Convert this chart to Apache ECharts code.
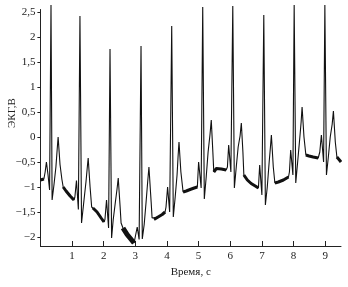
<!DOCTYPE html>
<html><head><meta charset="utf-8">
<script src="https://cdn.jsdelivr.net/npm/echarts@6/dist/echarts.min.js"></script>
<style>html,body{margin:0;padding:0;background:#fff}#c{width:348px;height:287px}</style>
</head><body><div id="c"></div>
<script>
// ECG trace: time (s) and voltage (V)
const ecgTime = [
  0.00,0.05,0.11,0.15,0.19,0.24,0.29,0.335,0.37,0.43,0.49,0.53,0.56,0.62,0.68,0.72,0.81,0.94,1.06,
  1.09,1.14,1.20,1.25,1.30,1.38,1.44,1.48,1.51,1.57,1.62,1.66,1.79,1.92,2.01,
  2.04,2.09,2.155,2.20,2.25,2.30,2.36,2.42,2.46,2.52,2.55,2.61,2.74,2.87,2.96,
  3.02,3.06,3.12,3.18,3.22,3.28,3.34,3.39,3.43,3.50,3.53,3.59,3.72,3.85,3.94,
  3.97,4.02,4.085,4.15,4.20,4.26,4.32,4.35,4.38,4.44,4.51,4.61,4.73,4.86,4.96,
  5.00,5.08,5.13,5.18,5.24,5.30,5.36,5.40,5.45,5.48,5.56,5.72,5.87,
  5.91,5.95,6.02,6.08,6.13,6.19,6.25,6.31,6.35,6.40,6.43,6.54,6.66,6.79,6.89,
  6.93,7.00,7.06,7.11,7.17,7.23,7.27,7.30,7.36,7.41,7.52,7.68,7.84,
  7.87,7.91,7.98,8.02,8.07,8.13,8.20,8.24,8.27,8.33,8.39,8.49,8.62,8.78,
  8.83,8.88,8.95,8.99,9.04,9.10,9.16,9.22,9.26,9.32,9.37,9.45,9.50
];
const ecgVolt = [
  -0.86,-0.88,-0.84,-0.70,-0.50,-0.75,-1.06,2.64,-1.26,-0.95,-0.60,-0.25,0.00,-0.55,-0.85,-1.00,-1.08,-1.18,-1.26,
  -1.20,-0.87,-1.45,2.42,-1.72,-1.25,-0.90,-0.62,-0.42,-1.00,-1.40,-1.42,-1.50,-1.62,-1.70,
  -1.65,-1.26,-1.82,1.76,-2.02,-1.66,-1.35,-1.05,-0.82,-1.40,-1.72,-1.82,-1.95,-2.05,-2.12,
  -2.10,-1.80,-2.05,1.82,-2.04,-1.75,-1.30,-0.90,-0.60,-1.30,-1.62,-1.65,-1.60,-1.55,-1.50,
  -1.40,-1.00,-1.50,2.22,-1.60,-1.20,-0.75,-0.40,-0.10,-0.70,-1.10,-1.08,-1.05,-1.02,-1.00,
  -0.50,-1.02,2.60,-1.24,-0.80,-0.30,0.05,0.34,-0.30,-0.70,-0.63,-0.64,-0.66,
  -0.60,-0.16,-0.70,2.62,-1.02,-0.60,-0.20,0.02,0.28,-0.30,-0.76,-0.86,-0.93,-0.98,-1.02,
  -0.56,-1.16,2.44,-1.36,-1.00,-0.50,-0.20,0.04,-0.60,-0.92,-0.90,-0.86,-0.80,
  -0.70,-0.26,-0.76,2.64,-0.92,-0.50,0.00,0.30,0.60,0.00,-0.36,-0.38,-0.40,-0.42,
  -0.30,0.04,-0.50,2.64,-0.76,-0.40,0.00,0.25,0.52,-0.10,-0.40,-0.46,-0.50
];
// time spans where the trace is noisy (drawn thicker)
const noisySpans = [[0,0.12],[0.72,1.07],[1.64,2.02],[3.55,3.95],[4.50,4.97],[5.48,5.88],[6.43,6.90],[7.41,7.85],[8.39,8.80],[9.37,9.50]];
const veryNoisySpans = [[2.58,2.98]];
const xTicks = [1,2,3,4,5,6,7,8,9];
const yTicks = [-2,-1.5,-1,-0.5,0,0.5,1,1.5,2,2.5];

const trace = ecgTime.map((t,i)=>[t, ecgVolt[i]]);
function spanData(spans){
  const out=[];
  spans.forEach(s=>{
    trace.forEach(p=>{ if(p[0]>=s[0]-1e-9 && p[0]<=s[1]+1e-9) out.push(p); });
    out.push(null);
  });
  return out;
}
const fmt = v => String(v).replace('.', ',').replace('-', '\u2212');
const FONT = '"Liberation Serif", "DejaVu Serif", serif';

const chart = echarts.init(document.getElementById('c'));
chart.setOption({
  animation:false,
  backgroundColor:'#fff',
  grid:{left:40.4, right:7, top:9.5, bottom:41},
  xAxis:{
    type:'value', min:0, max:9.5,
    axisLine:{onZero:false, lineStyle:{color:'#222',width:1}},
    axisTick:{show:true, inside:true, length:5, customValues:xTicks, lineStyle:{color:'#222'}},
    axisLabel:{customValues:xTicks, formatter:fmt, margin:5, fontFamily:FONT, fontSize:11, color:'#222'},
    splitLine:{show:false},
    name:'Время, с', nameLocation:'middle', nameGap:17,
    nameTextStyle:{fontFamily:FONT, fontSize:11, color:'#222'}
  },
  yAxis:{
    type:'value', min:-2.18, max:2.55,
    axisLine:{show:true, onZero:false, lineStyle:{color:'#222',width:1}},
    axisTick:{show:true, inside:false, length:3, customValues:yTicks, lineStyle:{color:'#222'}},
    axisLabel:{customValues:yTicks, formatter:fmt, margin:5, fontFamily:FONT, fontSize:11, color:'#222'},
    splitLine:{show:false}
  },
  graphic:[{
    type:'text', x:12, y:113, rotation:Math.PI/2,
    style:{text:'ЭКГ,В', font:'11px '+FONT, fill:'#222', align:'center', verticalAlign:'middle'}
  }],
  series:[
    {type:'line', data:trace, showSymbol:false, clip:false, lineStyle:{color:'#111', width:1.1}},
    {type:'line', data:spanData(noisySpans), showSymbol:false, connectNulls:false, lineStyle:{color:'#111', width:3}},
    {type:'line', data:spanData(veryNoisySpans), showSymbol:false, connectNulls:false, lineStyle:{color:'#111', width:5}}
  ]
});
</script>
</body></html>
